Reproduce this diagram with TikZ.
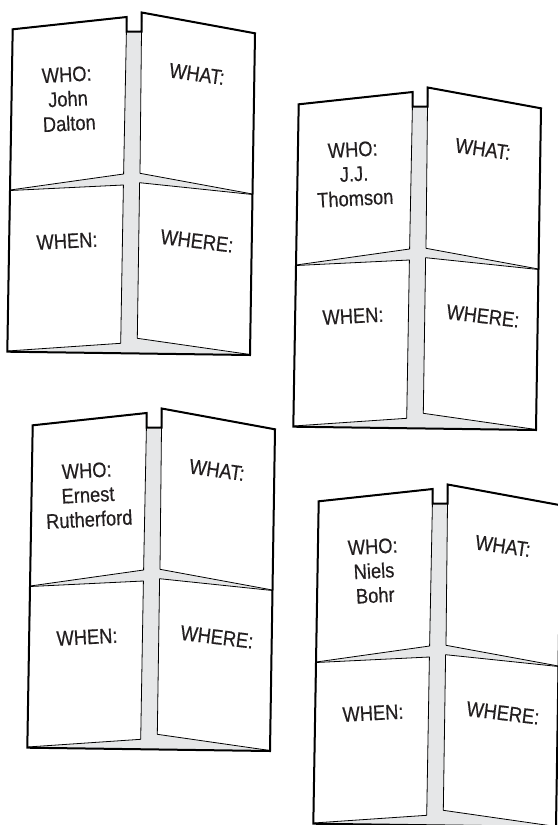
\documentclass[tikz,border=0pt]{standalone}
\usepackage{fontspec}
\setmainfont{Liberation Sans}[FakeStretch=0.87,FakeBold=0.4]
\definecolor{spinegray}{HTML}{E6E7E8}
\definecolor{inkgray}{HTML}{231F20}

% one four-door foldable: #1 shift, #2 index, #3 name under WHO:
\newcommand{\foldable}[3]{%
  \begin{scope}[shift={#1}]
    \fill[spinegray] (12.7,29.3) -- (126.7,17) -- (126.7,31.7) -- (141.7,31.7) -- (141.7,12.5)
      -- (255,33.3) -- (250,355) -- (7.3,351.7) -- cycle;
    \filldraw[flap] (12.7,29.3) -- (126.7,17) -- (123.6,174) -- (10.2,190) -- cycle;
    \filldraw[flap] (141.7,12.5) -- (255,33.3) -- (252.4,194) -- (140,173.3) -- cycle;
    \filldraw[flap] (10.2,190.5) -- (123.4,185) -- (120.7,343.3) -- (7.4,351) -- cycle;
    \filldraw[flap] (139.6,182.7) -- (252.4,194.5) -- (250,354.5) -- (137.3,338.3) -- cycle;
    \draw[outline] (12.7,29.3) -- (126.7,17) -- (126.7,31.7) -- (141.7,31.7) -- (141.7,12.5)
      -- (255,33.3) -- (250,355) -- (7.3,351.7) -- cycle;
    \node[cardtext,rotate=3] (who#2) at (68,99) {WHO:\\#3};
    \node[cardtext,rotate=-8] (what#2) at (197,74) {WHAT:};
    \node[cardtext,rotate=3] (when#2) at (67,241) {WHEN:};
    \node[cardtext,rotate=-7] (where#2) at (197,241) {WHERE:};
  \end{scope}}

\begin{document}
\begin{tikzpicture}[x=1bp,y=-1bp,
    flap/.style={draw=black,fill=white,line width=0.8bp,line join=round},
    outline/.style={draw=black,line width=2bp,line join=miter},
    cardtext/.style={text=inkgray,align=center,inner sep=0pt,
      font=\fontsize{21bp}{24.5bp}\selectfont}]
  \useasboundingbox (0,0) rectangle (558,825);
  \clip (0,0) rectangle (558,825);
  \foldable{(0,0)}{1}{John\\Dalton}
  \foldable{(286,75)}{2}{J.J.\\Thomson}
  \foldable{(20,396)}{3}{Ernest\\Rutherford}
  \foldable{(306,472)}{4}{Niels\\Bohr}
\end{tikzpicture}
\end{document}
